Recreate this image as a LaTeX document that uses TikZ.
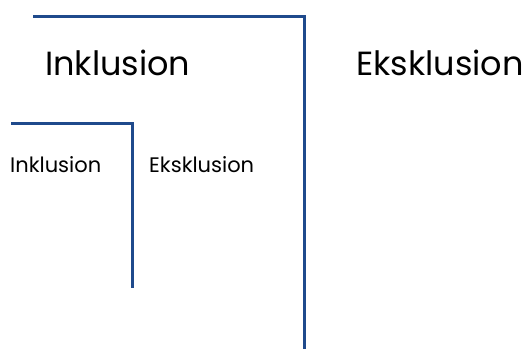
\documentclass[tikz,border=0pt]{standalone}
\usepackage{fontspec}
\setmainfont{Poppins}
\usetikzlibrary{positioning, calc}
\definecolor{linjeblaa}{HTML}{1F4A8C}

\begin{document}
\begin{tikzpicture}[x=1pt,y=-1pt,
    bigtxt/.style={anchor=base west, inner sep=0pt, font=\fontsize{33.5}{40}\selectfont},
    smalltxt/.style={anchor=base west, inner sep=0pt, font=\fontsize{21}{25}\selectfont},
    kant/.style={draw=linjeblaa, line width=3pt}]
    \useasboundingbox (0,0) rectangle (525,349);
    % Hjoerner
    \coordinate (storstart) at (33,16);
    \coordinate (storhjoerne) at (304,16);
    \coordinate (storslut) at (304,349);
    \coordinate (lillestart) at (11,123);
    \coordinate (lillehjoerne) at (132,123);
    \coordinate (lilleslut) at (132,288);

    % Tekster
    \node (inkstor) [bigtxt] at (45,75) {Inklusion};
    \node (eksstor) [bigtxt] at (356,75) {Eksklusion};
    \node (inklille) [smalltxt] at (10,172) {Inklusion};
    \node (ekslille) [smalltxt] at (149,172) {Eksklusion};

    % Linjer
    \draw[kant] (storstart) -- (storhjoerne) -- (storslut);
    \draw[kant] (lillestart) -- (lillehjoerne) -- (lilleslut);
\end{tikzpicture}
\end{document}
